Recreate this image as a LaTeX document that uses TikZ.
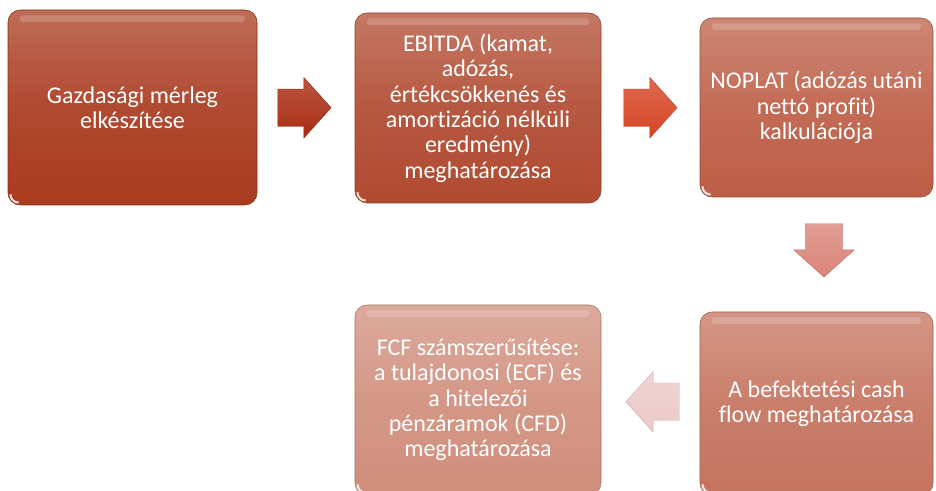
\documentclass[tikz,border=0pt]{standalone}
\usepackage{fontspec}
\setmainfont{Carlito}[Ligatures=NoCommon]
\usepackage{tikz}
\usetikzlibrary{positioning, calc, shapes.arrows}
\definecolor{stepone}{HTML}{A93A1E}
\definecolor{steptwo}{HTML}{B04A30}
\definecolor{stepthree}{HTML}{BD5E46}
\definecolor{stepfour}{HTML}{C5735E}
\definecolor{stepfive}{HTML}{D08E7C}
\definecolor{arrowone}{HTML}{A82C12}
\definecolor{arrowtwo}{HTML}{D64424}
\definecolor{arrowthree}{HTML}{D98479}
\definecolor{arrowfour}{HTML}{EBC9C8}

\tikzset{
  stepbox/.style={rounded corners=9pt, align=center, text=white,
    font=\fontsize{18}{19}\selectfont, inner sep=0pt,
    top color=#1!75!white, bottom color=#1, middle color=#1!92!white,
    draw=#1!80!black, line width=0.4pt,
    path picture={
      \fill[white, opacity=0.18, rounded corners=2pt]
        ([xshift=9pt,yshift=-4pt]path picture bounding box.north west) rectangle
        ([xshift=-9pt,yshift=-9pt]path picture bounding box.north east);
      \draw[white, opacity=0.8, line width=1.6pt]
        ([xshift=1.8pt,yshift=8pt]path picture bounding box.south west)
        arc[start angle=180, end angle=270, radius=6.2pt];
    }},
  blockarrow/.style={single arrow, minimum height=40pt, minimum width=45pt,
    inner xsep=0pt, inner ysep=13.9pt, single arrow head extend=8.6pt,
    single arrow tip angle=96, top color=#1!80!white, bottom color=#1,
    draw=#1!85!black, line width=0.3pt}
}

\begin{document}
\begin{tikzpicture}[x=0.75pt, y=-0.75pt]
  \useasboundingbox (0,0) rectangle (936,491);
  \clip (0,0) rectangle (936,491);

  % process steps
  \node[stepbox=stepone, minimum width=186.75pt, minimum height=146.25pt]
    (merleg) at (132.5,107.5) {Gazdasági mérleg\\elkészítése};
  \node[stepbox=steptwo, minimum width=184.5pt, minimum height=142.5pt]
    (ebitda) at (478,108) {EBITDA (kamat,\\adózás,\\értékcsökkenés és\\amortizáció nélküli\\eredmény)\\meghatározása};
  \node[stepbox=stepthree, minimum width=174.75pt, minimum height=134.25pt]
    (noplat) at (816.5,107.5) {NOPLAT (adózás utáni\\nettó profit)\\kalkulációja};
  \node[stepbox=stepfour, minimum width=174.75pt, minimum height=137.25pt]
    (befekt) at (816.5,403.5) {A befektetési cash\\flow meghatározása};
  \node[stepbox=stepfive, minimum width=184.5pt, minimum height=142.5pt]
    (fcf) at (478,400) {FCF számszerűsítése:\\a tulajdonosi (ECF) és\\a hitelezői\\pénzáramok (CFD)\\meghatározása};

  % arrows between the steps
  \node[blockarrow=arrowone] (ab) at ($(merleg.east)!0.5!(ebitda.west)+(-10,0)$) {};
  \node[blockarrow=arrowtwo] (bc) at ($(ebitda.east)!0.5!(noplat.west)+(-8.5,0)$) {};
  \node[blockarrow=arrowthree, rotate=-90] (cd)
    at ($(noplat.south)!0.5!(befekt.north)+(7.5,-12.5)$) {};
  \node[blockarrow=arrowfour, shape border rotate=180] (de)
    at ($(fcf.east)!0.5!(befekt.west)+(10.5,0)$) {};
\end{tikzpicture}
\end{document}
